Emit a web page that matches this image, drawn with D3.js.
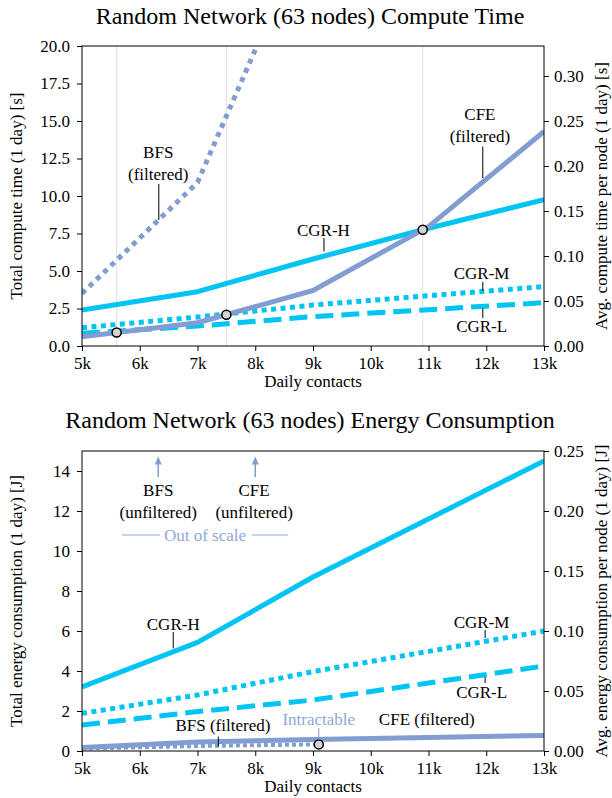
<!DOCTYPE html>
<html><head><meta charset="utf-8">
<script src="https://cdn.jsdelivr.net/npm/d3@7"></script>
<style>
html,body{margin:0;padding:0;background:#fff;}
svg{display:block;font-family:"Liberation Serif","Times New Roman",serif;}
</style></head>
<body><svg id="c" width="612" height="798"></svg>
<script>
// ---------- data ----------
const contacts = [5, 7, 9, 11, 13];           // thousands of daily contacts
const xTicks = [5, 6, 7, 8, 9, 10, 11, 12, 13];
const xTickLabels = ["5k","6k","7k","8k","9k","10k","11k","12k","13k"];
const nodes = 63;

// compute time [s]
const timeCGRH = [2.4, 3.62, 5.8, 7.85, 9.75];
const timeCGRM = [1.22, 1.93, 2.73, 3.35, 3.96];
const timeCGRL = [0.85, 1.33, 1.96, 2.42, 2.89];
const timeCFE  = [0.62, 1.55, 3.7, 7.96, 14.3];
const timeBFSx = [5, 7, 9];
const timeBFS  = [3.5, 10.9, 28.6];
const timeMarkX = [5.6, 7.5, 10.9];
const timeMarkY = [0.9, 2.08, 7.75];
const timeLeftTicks = [0, 2.5, 5, 7.5, 10, 12.5, 15, 17.5, 20];
const timeRightTicks = [0, 0.05, 0.10, 0.15, 0.20, 0.25, 0.30];

// energy [J]
const energyCGRH = [3.2, 5.43, 8.7, 11.6, 14.5];
const energyCGRM = [1.88, 2.8, 3.97, 4.98, 6.0];
const energyCGRL = [1.3, 1.97, 2.55, 3.4, 4.25];
const energyCFE  = [0.17, 0.45, 0.58, 0.68, 0.78];
const energyBFSx = [5, 7, 9.1];
const energyBFS  = [0.12, 0.25, 0.33];
const energyMarkX = [9.1];
const energyMarkY = [0.33];
const energyLeftTicks = [0, 2, 4, 6, 8, 10, 12, 14];
const energyRightTicks = [0, 0.05, 0.10, 0.15, 0.20, 0.25];

// ---------- styles ----------
const CYAN = "#00c4f4", LBLUE = "#829dd1", OOS = "#8fa7d8";
const FONT = 17;
const svg = d3.select("#c");

function panel(o) {
  const L = 82, R = 544, T = o.top, H = 300, B = T + H;
  const x = d3.scaleLinear().domain([5, 13]).range([L, R]);
  const y = d3.scaleLinear().domain([0, o.ymax]).range([B, T]);
  const y2 = d3.scaleLinear().domain([0, o.ymax / 60]).range([B, T]);
  const g = svg.append("g");
  const cid = "clip" + o.id;
  svg.append("clipPath").attr("id", cid).append("rect")
    .attr("x", L).attr("y", T).attr("width", R - L).attr("height", H);

  // title
  g.append("text").attr("x", 310).attr("y", o.titleY).attr("text-anchor", "middle")
    .attr("font-size", 24).text(o.title);

  // grid
  (o.grid || []).forEach(v => {
    g.append("line").attr("x1", x(v)).attr("x2", x(v)).attr("y1", T).attr("y2", B)
      .attr("stroke", "#e0e0e0").attr("stroke-width", 1);
  });

  // series
  const lg = g.append("g").attr("clip-path", `url(#${cid})`);
  o.series.forEach(s => {
    const line = d3.line().x((d, i) => x(s.x[i])).y(d => y(d));
    lg.append("path").datum(s.y).attr("d", line).attr("fill", "none")
      .attr("stroke", s.color).attr("stroke-width", s.w || 5)
      .attr("stroke-dasharray", s.dash || null)
      .attr("stroke-linejoin", "round");
  });
  // markers
  o.markX.forEach((mx, i) => {
    g.append("circle").attr("cx", x(mx)).attr("cy", y(o.markY[i])).attr("r", 4.5)
      .attr("fill", "#d4d4d4").attr("stroke", "#000").attr("stroke-width", 1.5);
  });

  // frame
  g.append("rect").attr("x", L).attr("y", T).attr("width", R - L).attr("height", H)
    .attr("fill", "none").attr("stroke", "#000").attr("stroke-width", 1);

  // axes
  const ax = g.append("g").attr("transform", `translate(0,${B})`)
    .call(d3.axisBottom(x).tickValues(xTicks).tickFormat((d, i) => xTickLabels[i]).tickSize(5).tickPadding(6));
  const ayl = g.append("g").attr("transform", `translate(${L},0)`)
    .call(d3.axisLeft(y).tickValues(o.leftTicks).tickFormat(d3.format(o.leftFmt)).tickSize(5).tickPadding(7));
  const ayr = g.append("g").attr("transform", `translate(${R},0)`)
    .call(d3.axisRight(y2).tickValues(o.rightTicks).tickFormat(d3.format(".2f")).tickSize(5).tickPadding(5));
  [ax, ayl, ayr].forEach(a => {
    a.select(".domain").remove();
    a.selectAll("text").attr("font-size", FONT).attr("font-family", "Liberation Serif, serif").attr("fill", "#000");
    a.selectAll("line").attr("stroke", "#000");
  });

  // axis labels
  g.append("text").attr("x", 313).attr("y", B + 41).attr("text-anchor", "middle")
    .attr("font-size", FONT).text("Daily contacts");
  g.append("text").attr("transform", `translate(22,${(T + B) / 2}) rotate(-90)`)
    .attr("text-anchor", "middle").attr("font-size", FONT).text(o.leftLabel);
  g.append("text").attr("transform", `translate(607,${(T + B) / 2}) rotate(-90)`)
    .attr("text-anchor", "middle").attr("font-size", FONT).text(o.rightLabel);

  // annotations
  o.notes.forEach(n => {
    n.lines.forEach((t, i) => {
      g.append("text").attr("x", x(n.x)).attr("y", y(n.y) + i * 22)
        .attr("text-anchor", "middle").attr("font-size", FONT)
        .attr("fill", n.color || "#000").text(t);
    });
    if (n.lead) {
      g.append("line").attr("x1", x(n.lead[0])).attr("x2", x(n.lead[0]))
        .attr("y1", y(n.lead[1])).attr("y2", y(n.lead[2]))
        .attr("stroke", n.leadColor || "#000").attr("stroke-width", 1);
    }
  });
  (o.hlines || []).forEach(h => {
    g.append("line").attr("x1", x(h[0])).attr("x2", x(h[1])).attr("y1", y(h[2])).attr("y2", y(h[2]))
      .attr("stroke", OOS).attr("stroke-width", 1.2);
  });
  (o.arrows || []).forEach(a => {
    const ax0 = x(a[0]), yb = y(a[1]), yt = y(a[2]);
    g.append("line").attr("x1", ax0).attr("x2", ax0).attr("y1", yb).attr("y2", yt + 6)
      .attr("stroke", LBLUE).attr("stroke-width", 1.5);
    g.append("path").attr("d", `M${ax0},${yt} L${ax0 - 3.5},${yt + 8} L${ax0 + 3.5},${yt + 8} Z`)
      .attr("fill", LBLUE);
  });
}

panel({
  id: 1, top: 46, ymax: 20, titleY: 24,
  title: `Random Network (${nodes} nodes) Compute Time`,
  leftLabel: "Total compute time (1 day) [s]",
  rightLabel: "Avg. compute time per node (1 day) [s]",
  leftTicks: timeLeftTicks, leftFmt: ".1f", rightTicks: timeRightTicks,
  grid: timeMarkX,
  series: [
    { x: contacts, y: timeCGRL, color: CYAN, dash: "18,8" },
    { x: contacts, y: timeCGRM, color: CYAN, dash: "5,4.5" },
    { x: contacts, y: timeCGRH, color: CYAN },
    { x: contacts, y: timeCFE, color: LBLUE },
    { x: timeBFSx, y: timeBFS, color: LBLUE, dash: "5,5" }
  ],
  markX: timeMarkX, markY: timeMarkY,
  notes: [
    { lines: ["BFS", "(filtered)"], x: 6.32, y: 12.55, lead: [6.33, 10.8, 8.4] },
    { lines: ["CGR-H"], x: 9.18, y: 7.35, lead: [9.19, 7.2, 6.3] },
    { lines: ["CFE", "(filtered)"], x: 11.89, y: 15.05, lead: [11.94, 13.3, 11.2] },
    { lines: ["CGR-M"], x: 11.92, y: 4.5, lead: [11.94, 4.27, 3.67] },
    { lines: ["CGR-L"], x: 11.92, y: 0.91, lead: [11.94, 2.5, 1.87] }
  ]
});

panel({
  id: 2, top: 451, ymax: 15, titleY: 428,
  title: `Random Network (${nodes} nodes) Energy Consumption`,
  leftLabel: "Total energy consumption (1 day) [J]",
  rightLabel: "Avg. energy consumption per node (1 day) [J]",
  leftTicks: energyLeftTicks, leftFmt: "d", rightTicks: energyRightTicks,
  grid: [],
  series: [
    { x: contacts, y: energyCGRL, color: CYAN, dash: "18,8" },
    { x: contacts, y: energyCGRM, color: CYAN, dash: "5,4.5" },
    { x: contacts, y: energyCGRH, color: CYAN },
    { x: energyBFSx, y: energyBFS, color: LBLUE, dash: "4,3", w: 4 },
    { x: contacts, y: energyCFE, color: LBLUE }
  ],
  markX: energyMarkX, markY: energyMarkY,
  arrows: [[6.32, 13.7, 14.72], [8.0, 13.7, 14.72]],
  hlines: [[5.69, 6.35, 10.8], [7.94, 8.57, 10.8]],
  notes: [
    { lines: ["BFS", "(unfiltered)"], x: 6.32, y: 12.76 },
    { lines: ["CFE", "(unfiltered)"], x: 7.98, y: 12.76 },
    { lines: ["Out of scale"], x: 7.13, y: 10.5, color: OOS },
    { lines: ["CGR-H"], x: 6.58, y: 6.05, lead: [6.58, 5.95, 5.13] },
    { lines: ["BFS (filtered)"], x: 7.44, y: 1.0, lead: [7.36, 0.72, 0.22] },
    { lines: ["Intractable"], x: 9.1, y: 1.3, color: OOS, lead: [9.1, 1.15, 0.55], leadColor: LBLUE },
    { lines: ["CFE (filtered)"], x: 10.97, y: 1.32 },
    { lines: ["CGR-M"], x: 11.92, y: 6.15, lead: [11.98, 6.05, 5.65] },
    { lines: ["CGR-L"], x: 11.92, y: 2.67, lead: [11.98, 3.7, 3.4] }
  ]
});
</script></body></html>
